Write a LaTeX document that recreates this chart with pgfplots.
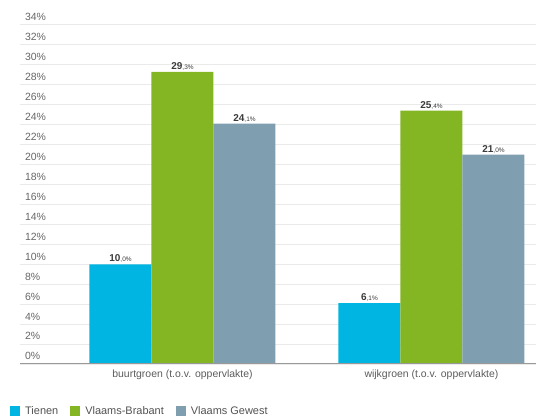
\documentclass[border=0pt]{standalone}
\usepackage{pgfplots}
\pgfplotsset{compat=1.18}
\usepackage{fontspec}
\setmainfont{Liberation Sans}
\definecolor{cTienen}{HTML}{00B5E2}
\definecolor{cBrabant}{HTML}{84B623}
\definecolor{cGewest}{HTML}{7F9FB0}
\definecolor{gridc}{HTML}{EAEAEA}
\definecolor{tickc}{HTML}{666666}
\definecolor{labc}{HTML}{3A3A3A}
\def\lab#1.#2\relax{\textbf{\fontsize{10}{10}\selectfont #1}{\fontsize{6.5}{7}\selectfont,#2\%}}
\begin{document}
\begin{tikzpicture}
\useasboundingbox (0,0) rectangle (536bp,417bp);
\begin{axis}[
  at={(20bp,53bp)}, anchor=south west,
  scale only axis, width=516bp, height=339bp,
  xmin=-0.6526, xmax=1.4197, ymin=0, ymax=34,
  ybar=0pt, bar width=62bp,
  axis line style={draw=none},
  major tick length=0pt,
  xtick={0,1},
  xticklabels={buurtgroen (t.o.v. oppervlakte), wijkgroen (t.o.v. oppervlakte)},
  xticklabel style={font=\fontsize{10.5}{12}\selectfont, text=tickc!90!black, yshift=-2bp},
  ytick={0,2,...,34},
  yticklabel={\pgfmathprintnumber{\tick}\%},
  yticklabel style={anchor=south west, xshift=1.5bp, yshift=0.5bp, font=\fontsize{10.5}{12}\selectfont, text=tickc},
  /pgf/number format/assume math mode=true,
  ymajorgrids, grid style={gridc, line width=1bp},
  point meta=explicit symbolic,
  nodes near coords={\expandafter\lab\pgfplotspointmeta\relax},
  every node near coord/.append style={text=labc, inner sep=1.5bp},
  legend columns=3,
  legend style={at={(0,0)}, anchor=west, xshift=-10bp, yshift=-47bp, draw=none, fill=none, inner sep=0pt,
    font=\fontsize{11}{12}\selectfont, text=tickc!80!black,
    nodes={inner sep=0pt},
    /tikz/every odd column/.append style={column sep=5bp},
    /tikz/every even column/.append style={column sep=12bp}},
  legend image code/.code={\fill[#1] (0bp,-5bp) rectangle (10bp,5bp);},
]
\addplot[fill=cTienen, draw=none] coordinates {(0,10.0) [10.0] (1,6.1) [6.1]};
\addplot[fill=cBrabant, draw=none] coordinates {(0,29.3) [29.3] (1,25.4) [25.4]};
\addplot[fill=cGewest, draw=none] coordinates {(0,24.1) [24.1] (1,21.0) [21.0]};
\legend{Tienen, Vlaams-Brabant, Vlaams Gewest}
\draw[black!40, line width=1.5bp] (rel axis cs:0,0) -- (rel axis cs:1,0);
\end{axis}
\end{tikzpicture}
\end{document}
